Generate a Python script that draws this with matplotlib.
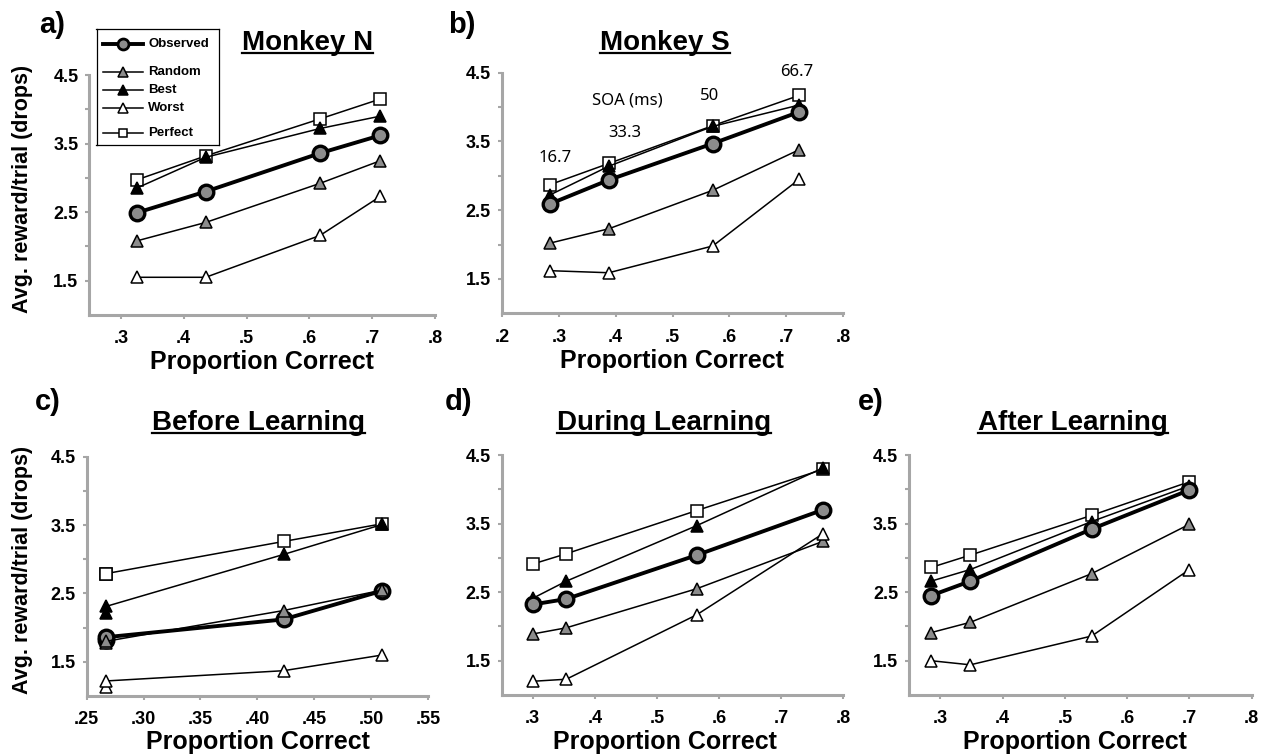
import matplotlib
matplotlib.use("Agg")
import matplotlib.pyplot as plt
from matplotlib.lines import Line2D
from matplotlib.ticker import FixedLocator

plt.rcParams['font.family'] = ['Liberation Sans', 'DejaVu Sans']

# proportion correct / avg reward per trial for each panel
a_x = [0.325, 0.435, 0.617, 0.713]
a_obs = [2.49, 2.80, 3.36, 3.62]
a_rand = [2.08, 2.35, 2.92, 3.25]
a_best = [2.85, 3.30, 3.72, 3.90]
a_worst = [1.55, 1.55, 2.16, 2.73]
a_perf = [2.97, 3.32, 3.86, 4.15]

b_x = [0.284, 0.388, 0.571, 0.723]
b_obs = [2.59, 2.94, 3.47, 3.93]
b_rand = [2.02, 2.23, 2.79, 3.38]
b_best = [2.72, 3.14, 3.72, 4.03]
b_worst = [1.62, 1.59, 1.98, 2.95]
b_perf = [2.87, 3.18, 3.73, 4.17]

c_x = [0.267, 0.267, 0.423, 0.510]
c_obs = [1.82, 1.86, 2.12, 2.54]
c_rand = [1.78, 1.80, 2.25, 2.55]
c_best = [2.22, 2.31, 3.07, 3.51]
c_worst = [1.13, 1.22, 1.37, 1.60]
c_perf = [2.79, 2.79, 3.26, 3.52]

d_x = [0.300, 0.354, 0.564, 0.767]
d_obs = [2.32, 2.40, 3.04, 3.70]
d_rand = [1.89, 1.98, 2.55, 3.24]
d_best = [2.41, 2.66, 3.47, 4.31]
d_worst = [1.20, 1.23, 2.17, 3.35]
d_perf = [2.91, 3.06, 3.69, 4.29]

e_x = [0.285, 0.348, 0.543, 0.700]
e_obs = [2.45, 2.66, 3.42, 3.99]
e_rand = [1.91, 2.06, 2.77, 3.49]
e_best = [2.66, 2.83, 3.53, 4.05]
e_worst = [1.50, 1.44, 1.86, 2.83]
e_perf = [2.86, 3.04, 3.62, 4.11]

soa_labels = ["SOA (ms)", "16.7", "33.3", "50", "66.7"]
soa_xy = [(0.42, 4.10), (0.293, 3.26), (0.416, 3.62), (0.565, 4.16), (0.719, 4.51)]

ticks_wide = [0.3, 0.4, 0.5, 0.6, 0.7, 0.8]
ticks_b = [0.2, 0.3, 0.4, 0.5, 0.6, 0.7, 0.8]
ticks_c = [0.25, 0.30, 0.35, 0.40, 0.45, 0.50, 0.55]
y_major = [1.5, 2.5, 3.5, 4.5]
y_minor = [2.0, 3.0, 4.0]

W, H = 1265, 755
fig = plt.figure(figsize=(W / 100, H / 100), dpi=100)


def px_rect(l, t, r, b):
    return [l / W, 1 - b / H, (r - l) / W, (b - t) / H]


GRAY = '#8c8c8c'
AXIS = '#a6a6a6'
styles = {
    'Perfect': dict(marker='s', mfc='white', mec='black', ms=8.5, mew=1.1, lw=1.1, color='black'),
    'Best': dict(marker='^', mfc='black', mec='black', ms=9, mew=1.1, lw=1.1, color='black'),
    'Observed': dict(marker='o', mfc=GRAY, mec='black', ms=10.5, mew=2.4, lw=2.8, color='black'),
    'Random': dict(marker='^', mfc=GRAY, mec='black', ms=9, mew=1.1, lw=1.1, color='black'),
    'Worst': dict(marker='^', mfc='white', mec='black', ms=9, mew=1.1, lw=1.1, color='black'),
}
order = ['Perfect', 'Best', 'Observed', 'Random', 'Worst']

panels = [
    dict(rect=(89.5, 75, 435, 315), xlim=(0.25, 0.8), xt=ticks_wide, fmt='{:.1f}',
         x=a_x, ys=dict(Perfect=a_perf, Best=a_best, Observed=a_obs, Random=a_rand, Worst=a_worst),
         title='Monkey N', tx=307.5, tb=50, lab='a)', lx=39, lb=33, xlab=(262, 362), ylab=True),
    dict(rect=(502, 72.7, 843, 313.3), xlim=(0.2, 0.8), xt=ticks_b, fmt='{:.1f}',
         x=b_x, ys=dict(Perfect=b_perf, Best=b_best, Observed=b_obs, Random=b_rand, Worst=b_worst),
         title='Monkey S', tx=665, tb=50, lab='b)', lx=448, lb=33, xlab=(672, 361), ylab=False),
    dict(rect=(86.7, 456.7, 428, 696), xlim=(0.25, 0.55), xt=ticks_c, fmt='{:.2f}',
         x=c_x, ys=dict(Perfect=c_perf, Best=c_best, Observed=c_obs, Random=c_rand, Worst=c_worst),
         title='Before Learning', tx=258, tb=430, lab='c)', lx=35, lb=410, xlab=(257.5, 741.5), ylab=True),
    dict(rect=(501.7, 455, 843.3, 695), xlim=(0.25, 0.8), xt=ticks_wide, fmt='{:.1f}',
         x=d_x, ys=dict(Perfect=d_perf, Best=d_best, Observed=d_obs, Random=d_rand, Worst=d_worst),
         title='During Learning', tx=664, tb=430, lab='d)', lx=445, lb=410, xlab=(665, 741.5), ylab=False),
    dict(rect=(909.3, 455, 1251.7, 695), xlim=(0.25, 0.8), xt=ticks_wide, fmt='{:.1f}',
         x=e_x, ys=dict(Perfect=e_perf, Best=e_best, Observed=e_obs, Random=e_rand, Worst=e_worst),
         title='After Learning', tx=1073, tb=430, lab='e)', lx=858, lb=410, xlab=(1075, 741.5), ylab=False),
]

titles = []
for p in panels:
    ax = fig.add_axes(px_rect(*p['rect']))
    for name in order:
        ax.plot(p['x'], p['ys'][name], clip_on=False, **styles[name])
    ax.set_xlim(*p['xlim'])
    ax.set_ylim(1.0, 4.5)
    for side in ('top', 'right'):
        ax.spines[side].set_visible(False)
    for side in ('left', 'bottom'):
        ax.spines[side].set_color(AXIS)
        ax.spines[side].set_linewidth(2.2)
    ax.xaxis.set_major_locator(FixedLocator(p['xt']))
    ax.set_xticklabels([p['fmt'].format(v).lstrip('0') for v in p['xt']])
    ax.yaxis.set_major_locator(FixedLocator(y_major))
    ax.yaxis.set_minor_locator(FixedLocator(y_minor))
    ax.set_yticklabels(['{:.1f}'.format(v) for v in y_major])
    ax.tick_params(which='both', direction='out', length=3, width=1.5, color=AXIS)
    ax.tick_params(axis='y', which='major', labelsize=13, pad=5)
    ax.tick_params(axis='x', labelsize=13, pad=8)
    for lbl in ax.get_xticklabels() + ax.get_yticklabels():
        lbl.set_fontweight('bold')
    ax.patch.set_visible(False)

    fig.text(p['xlab'][0] / W, 1 - p['xlab'][1] / H, 'Proportion Correct',
             ha='center', va='center', fontsize=18, fontweight='bold')
    if p['ylab']:
        cy = (p['rect'][1] + p['rect'][3]) / 2 - 6
        fig.text(23 / W, 1 - cy / H, 'Avg. reward/trial (drops)', rotation=90,
                 ha='center', va='center', fontsize=15.5, fontweight='bold')
    t = fig.text(p['tx'] / W, 1 - p['tb'] / H, p['title'], ha='center', va='baseline',
                 fontsize=20, fontweight='bold')
    titles.append((t, p['tb']))
    fig.text(p['lx'] / W, 1 - p['lb'] / H, p['lab'], ha='left', va='baseline',
             fontsize=21, fontweight='bold')

    if p['title'] == 'Monkey S':
        for s, (sx, sy) in zip(soa_labels, soa_xy):
            ax.text(sx, sy, s, ha='center', va='center', fontsize=12,
                    family=['Noto Sans', 'DejaVu Sans'])

# legend box for panel a
lax = fig.add_axes(px_rect(96.5, 29.3, 219, 145))
lax.set_xlim(96.5, 219)
lax.set_ylim(145, 29.3)
lax.set_xticks([])
lax.set_yticks([])
for sp in lax.spines.values():
    sp.set_linewidth(0.9)
    sp.set_color('black')
leg_rows = [('Observed', 44.3), ('Random', 71.7), ('Best', 90), ('Worst', 108.3), ('Perfect', 133.3)]
for name, yy in leg_rows:
    st = dict(styles[name])
    st['ms'] = st['ms'] * 0.75
    if name == 'Observed':
        st['mew'] = 2.0
    lax.plot([102.7, 122.7, 143.3], [yy, yy, yy], markevery=[1], **st)
    lax.text(148.3, yy, name, ha='left', va='center', fontsize=9.5, fontweight='bold')

# underline panel titles
fig.canvas.draw()
renderer = fig.canvas.get_renderer()
for t, base in titles:
    bb = t.get_window_extent(renderer)
    y = 1 - (base + 3) / H
    fig.add_artist(Line2D([bb.x0 / W, bb.x1 / W], [y, y], transform=fig.transFigure,
                          color='black', lw=1.6))

fig.savefig('out.png', dpi=100)
